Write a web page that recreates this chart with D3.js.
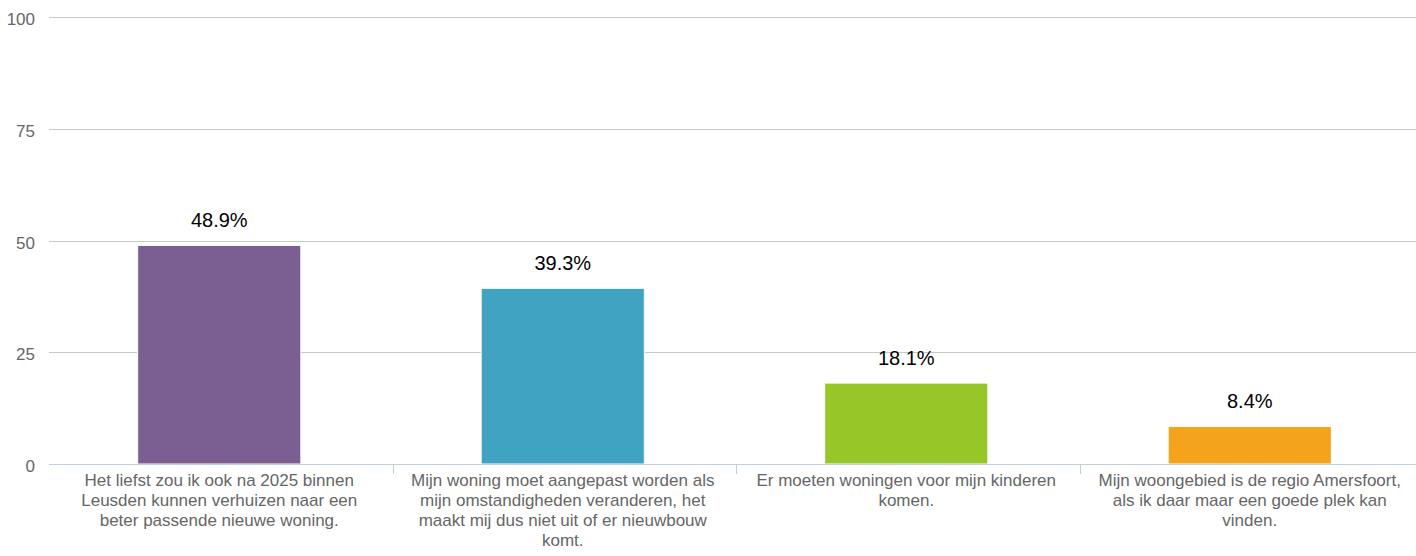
<!DOCTYPE html>
<html>
<head>
  <meta charset="utf-8">
  <title>Woonwensen Leusden</title>
  <script src="https://d3js.org/d3.v7.min.js"></script>
  <style>
    body { margin: 0; background: #fff; }
    svg { display: block; font-family: "Liberation Sans", Arial, Helvetica, sans-serif; }
    .grid line { stroke: #c8c8c8; stroke-width: 1; shape-rendering: crispEdges; }
    .y-label { fill: #666; font-size: 17px; }
    .x-label { fill: #666; font-size: 17px; }
    .value-label { fill: #000; font-size: 20px; }
    .x-axis line, .x-axis path { stroke: #c0d0e0; stroke-width: 1; shape-rendering: crispEdges; }
  </style>
</head>
<body>
  <div class="chart"></div>

  <script>
    // Data
    const categories = [
      "Het liefst zou ik ook na 2025 binnen Leusden kunnen verhuizen naar een beter passende nieuwe woning.",
      "Mijn woning moet aangepast worden als mijn omstandigheden veranderen, het maakt mij dus niet uit of er nieuwbouw komt.",
      "Er moeten woningen voor mijn kinderen komen.",
      "Mijn woongebied is de regio Amersfoort, als ik daar maar een goede plek kan vinden."
    ];
    const values = [48.9, 39.3, 18.1, 8.4];
    const barColors = ["#7b5f92", "#40a3c2", "#96c628", "#f4a41c"];
    const yTicks = [0, 25, 50, 75, 100];

    const width = 1416, height = 556;
    const plotLeft = 49, plotRight = 1423, plotTop = 17, plotBottom = 464;

    const svg = d3.select(".chart")
      .append("svg")
      .attr("width", width)
      .attr("height", height);

    const x = d3.scaleBand()
      .domain(categories)
      .range([plotLeft, plotRight])
      .padding(0);

    const y = d3.scaleLinear()
      .domain([0, 100])
      .range([plotBottom, plotTop]);

    // Gridlines
    const grid = svg.append("g").attr("class", "grid");
    grid.selectAll("line")
      .data(yTicks.filter(d => d !== 0))
      .join("line")
      .attr("x1", plotLeft)
      .attr("x2", plotRight)
      .attr("y1", d => Math.round(y(d)) + 0.5)
      .attr("y2", d => Math.round(y(d)) + 0.5);

    // Y labels
    svg.append("g").selectAll("text")
      .data(yTicks)
      .join("text")
      .attr("class", "y-label")
      .attr("x", 35)
      .attr("y", d => y(d) + 8)
      .attr("text-anchor", "end")
      .text(d => d);

    // Bars
    const barW = x.bandwidth() * 0.475;
    svg.append("g").selectAll("rect")
      .data(values)
      .join("rect")
      .attr("x", (d, i) => x(categories[i]) + x.bandwidth() / 2 - barW / 2 - 1.5)
      .attr("y", d => y(d))
      .attr("width", barW)
      .attr("height", d => plotBottom - y(d))
      .attr("fill", (d, i) => barColors[i])
      .attr("stroke", "#fff")
      .attr("stroke-width", 1);

    // X axis line and ticks at category boundaries
    const xAxis = svg.append("g").attr("class", "x-axis");
    xAxis.append("path")
      .attr("d", `M${plotLeft},${plotBottom + 0.5}H${plotRight}`)
      .attr("fill", "none");
    xAxis.selectAll("line")
      .data(categories.slice(1))
      .join("line")
      .attr("x1", d => Math.round(x(d)) + 0.5)
      .attr("x2", d => Math.round(x(d)) + 0.5)
      .attr("y1", plotBottom)
      .attr("y2", plotBottom + 10);

    // Value labels
    svg.append("g").selectAll("text")
      .data(values)
      .join("text")
      .attr("class", "value-label")
      .attr("x", (d, i) => x(categories[i]) + x.bandwidth() / 2 - 1.5)
      .attr("y", d => y(d) - 18)
      .attr("text-anchor", "middle")
      .text(d => d.toFixed(1) + "%");

    // Category labels, wrapped
    const maxW = 310;
    const labels = svg.append("g").selectAll("text")
      .data(categories)
      .join("text")
      .attr("class", "x-label")
      .attr("text-anchor", "middle")
      .attr("x", d => x(d) + x.bandwidth() / 2 - 1.5)
      .attr("y", 486);

    labels.each(function(d) {
      const text = d3.select(this);
      const cx = text.attr("x");
      const words = d.split(" ");
      let line = [];
      let tspan = text.append("tspan").attr("x", cx).attr("dy", 0);
      words.forEach(w => {
        line.push(w);
        tspan.text(line.join(" "));
        if (tspan.node().getComputedTextLength() > maxW && line.length > 1) {
          line.pop();
          tspan.text(line.join(" "));
          line = [w];
          tspan = text.append("tspan").attr("x", cx).attr("dy", 20).text(w);
        }
      });
    });
  </script>
</body>
</html>
